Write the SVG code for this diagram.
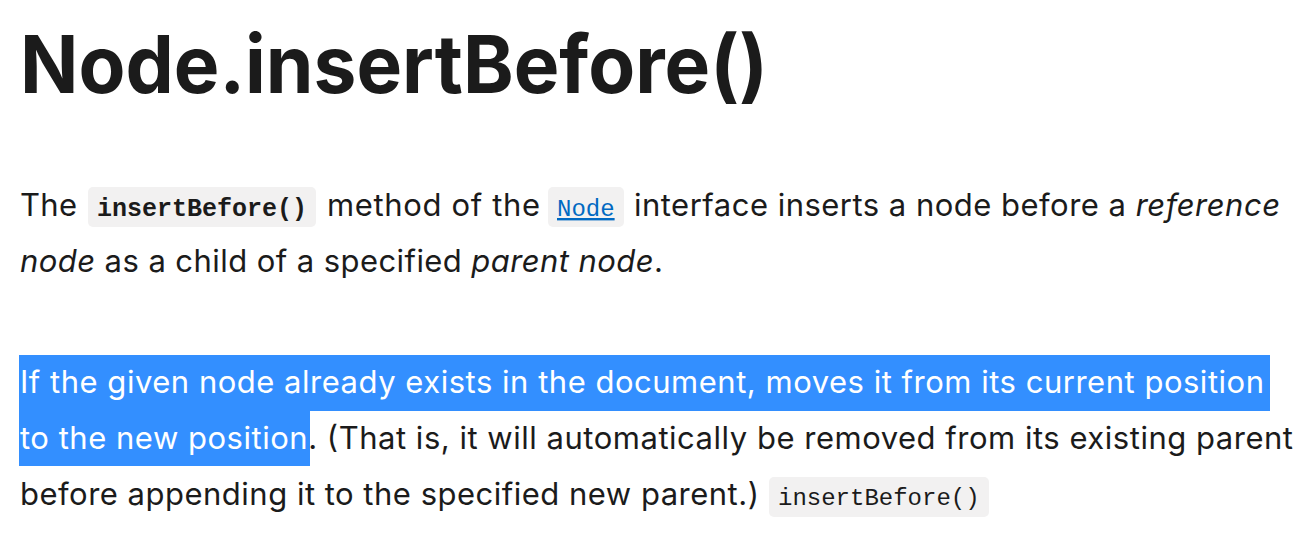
<svg xmlns="http://www.w3.org/2000/svg" width="1314" height="544" viewBox="0 0 1314 544">
<style>
.t{font-family:Inter,"Noto Sans",sans-serif;font-size:31px;fill:#1b1b1b}
.i{font-style:italic}
.w{fill:#ffffff}
.c{font-family:"Liberation Mono","DejaVu Sans Mono",monospace;font-size:24px;fill:#1b1b1b}
.cb{font-weight:bold;font-size:25px}
.bg{fill:#f2f1f1}
.hl{fill:#338fff}
.lnk{fill:#0069c2;text-decoration:underline}
</style>
<rect width="1314" height="544" fill="#ffffff"/>
<g id="title">
<text x="20" y="93" font-family="Inter,'Noto Sans',sans-serif" font-size="80" font-weight="bold" fill="#1b1b1b" textLength="748" lengthAdjust="spacingAndGlyphs">Node.insertBefore()</text>
</g>
<g id="para1">
<rect class="bg" x="88" y="187" width="228" height="40" rx="5"/>
<rect class="bg" x="548" y="187" width="76" height="40" rx="5"/>
<text class="t" x="20" y="216" textLength="57">The</text>
<text class="c cb" x="97" y="216">insertBefore()</text>
<text class="t" x="327" y="216" textLength="213">method of the</text>
<text class="c lnk" x="557" y="216">Node</text>
<text class="t" x="634" y="216" textLength="646">interface inserts a node before a <tspan class="i">reference</tspan></text>
<text class="t" y="272" x="20" textLength="643"><tspan class="i">node</tspan> as a child of a specified <tspan class="i">parent node</tspan>.</text>
</g>
<g id="para2">
<rect class="hl" x="19" y="355" width="1251" height="56"/>
<rect class="hl" x="19" y="410" width="291" height="56"/>
<rect class="bg" x="769" y="477" width="220" height="40" rx="5"/>
<text class="t w" x="20" y="393" textLength="1244">If the given node already exists in the document, moves it from its current position</text>
<text class="t" x="20" y="449" textLength="1273"><tspan class="w">to the new position</tspan>. (That is, it will automatically be removed from its existing parent</text>
<text class="t" x="20" y="505" textLength="739">before appending it to the specified new parent.)</text>
<text class="c" x="778" y="505">insertBefore()</text>
</g>
</svg>
